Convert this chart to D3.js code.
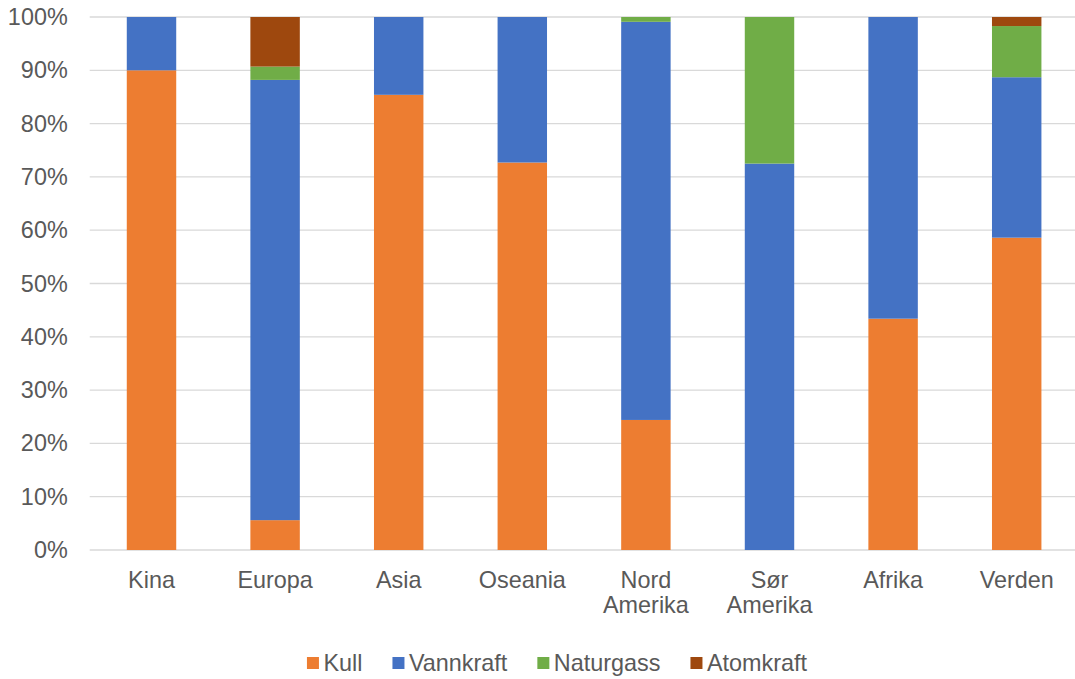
<!DOCTYPE html>
<html>
<head>
<meta charset="utf-8">
<script src="https://cdn.jsdelivr.net/npm/d3@7"></script>
<style>
  html, body { margin: 0; padding: 0; background: #fff; }
  svg { display: block; font-family: "Liberation Sans", Arial, sans-serif; }
</style>
</head>
<body>
<svg id="chart" width="1075" height="679"></svg>
<script>
// Share of electricity production by source per region (%)
const categories = ["Kina", "Europa", "Asia", "Oseania", "Nord Amerika", "Sør Amerika", "Afrika", "Verden"];
const kull       = [90.0,  5.6, 85.4, 72.7, 24.4,  0.0, 43.4, 58.6];
const vannkraft  = [10.0, 82.6, 14.6, 27.3, 74.7, 72.5, 56.6, 30.1];
const naturgass  = [ 0.0,  2.5,  0.0,  0.0,  0.9, 27.5,  0.0,  9.6];
const atomkraft  = [ 0.0,  9.3,  0.0,  0.0,  0.0,  0.0,  0.0,  1.7];
const seriesNames = ["Kull", "Vannkraft", "Naturgass", "Atomkraft"];
const yTicks = [0, 10, 20, 30, 40, 50, 60, 70, 80, 90, 100];

const colors = {
  Kull: "#ED7D31",
  Vannkraft: "#4472C4",
  Naturgass: "#70AD47",
  Atomkraft: "#9E480E"
};
const textColor = "#595959";
const gridColor = "#D9D9D9";
const axisFontSize = 23.4;
const legendFontSize = 23.4;

const svg = d3.select("#chart");
const plot = { left: 89.7, right: 1078.5, top: 17, bottom: 550 };

const rows = categories.map((c, i) => ({
  category: c,
  Kull: kull[i],
  Vannkraft: vannkraft[i],
  Naturgass: naturgass[i],
  Atomkraft: atomkraft[i]
}));

const x = d3.scaleBand()
  .domain(categories)
  .range([plot.left, plot.right])
  .paddingInner(0.6)
  .paddingOuter(0.3);

const y = d3.scaleLinear()
  .domain([0, 100])
  .range([plot.bottom, plot.top]);

// Horizontal gridlines
svg.append("g")
  .selectAll("line")
  .data(yTicks)
  .join("line")
  .attr("x1", plot.left)
  .attr("x2", plot.right)
  .attr("y1", d => y(d))
  .attr("y2", d => y(d))
  .attr("stroke", gridColor)
  .attr("stroke-width", 1.3);

// Y axis labels
const yAxis = d3.axisLeft(y)
  .tickValues(yTicks)
  .tickFormat(d => d + "%")
  .tickSize(0)
  .tickPadding(0);

svg.append("g")
  .attr("transform", `translate(${plot.left - 22},0)`)
  .call(yAxis)
  .call(g => g.select(".domain").remove())
  .selectAll("text")
  .attr("fill", textColor)
  .attr("font-size", axisFontSize)
  .attr("font-family", "Liberation Sans, Arial, sans-serif");

// Stacked bars
const stack = d3.stack().keys(seriesNames);
const stacked = stack(rows);

svg.append("g")
  .selectAll("g")
  .data(stacked)
  .join("g")
  .attr("fill", d => colors[d.key])
  .selectAll("rect")
  .data(d => d.filter(s => s[1] - s[0] > 0))
  .join("rect")
  .attr("x", d => x(d.data.category))
  .attr("width", x.bandwidth())
  .attr("y", d => y(d[1]))
  .attr("height", d => y(d[0]) - y(d[1]));

// X axis category labels (wrapped on spaces)
const xAxis = d3.axisBottom(x).tickSize(0).tickPadding(0);
const xg = svg.append("g")
  .attr("transform", `translate(0,${plot.bottom})`)
  .call(xAxis);
xg.select(".domain").remove();
xg.selectAll("text")
  .attr("fill", textColor)
  .attr("font-size", axisFontSize)
  .attr("font-family", "Liberation Sans, Arial, sans-serif")
  .attr("dy", null)
  .attr("y", 0)
  .each(function (d) {
    const t = d3.select(this);
    const words = d.split(" ");
    t.text(null);
    words.forEach((w, i) => {
      t.append("tspan")
        .attr("x", 0)
        .attr("y", 37.5 + i * 25.5)
        .text(w);
    });
  });

// Legend: swatch + label, entries laid out with even gaps, centred
const legendCenter = 557;
const swatch = 12, swatchGap = 4.5, entryGap = 30, legendY = 657;
const legend = svg.append("g");
const entries = legend.selectAll("g")
  .data(seriesNames)
  .join("g");
entries.append("rect")
  .attr("width", swatch)
  .attr("height", swatch)
  .attr("y", legendY)
  .attr("fill", d => colors[d]);
entries.append("text")
  .attr("x", swatch + swatchGap)
  .attr("y", legendY + 13.5)
  .attr("fill", textColor)
  .attr("font-size", legendFontSize)
  .text(d => d);

const widths = [];
entries.each(function () {
  widths.push(swatch + swatchGap + d3.select(this).select("text").node().getComputedTextLength());
});
const total = d3.sum(widths) + entryGap * (widths.length - 1);
let cursor = legendCenter - total / 2;
entries.attr("transform", (d, i) => {
  const tx = cursor;
  cursor += widths[i] + entryGap;
  return `translate(${tx},0)`;
});
</script>
</body>
</html>
